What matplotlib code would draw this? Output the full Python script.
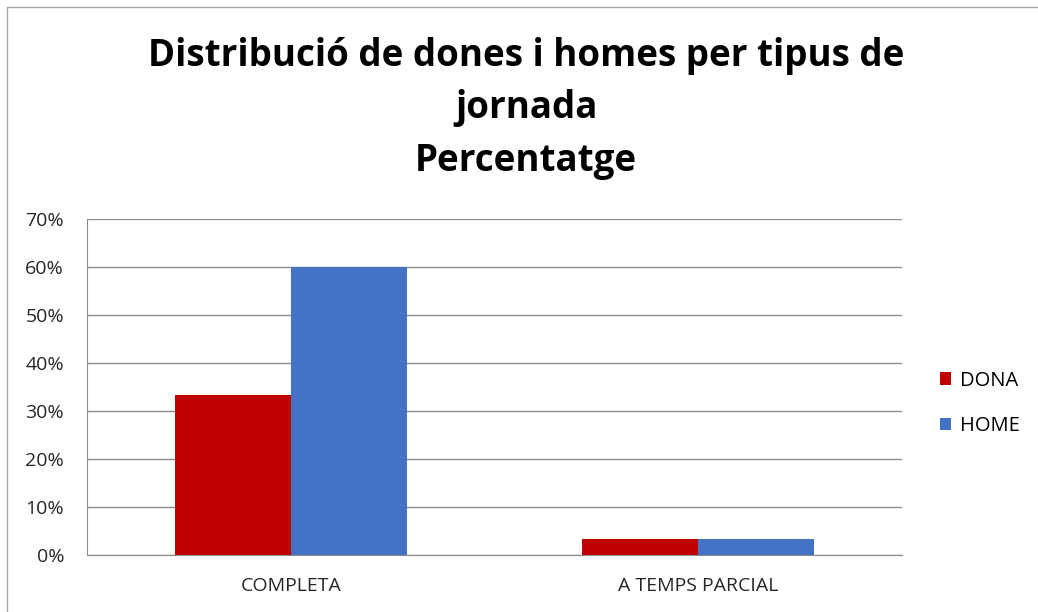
import matplotlib
matplotlib.use("Agg")
import matplotlib.pyplot as plt
import numpy as np
from matplotlib import patches
from matplotlib.ticker import PercentFormatter

categories = ["COMPLETA", "A TEMPS PARCIAL"]
series_names = ["DONA", "HOME"]
dona = [33.3, 3.3]
home = [60.0, 3.3]
colors = ["#C00000", "#4472C4"]

plt.rcParams['font.family'] = ['Open Sans', 'DejaVu Sans']

fig = plt.figure(figsize=(10.38, 6.12), dpi=100)
ax = fig.add_axes([0.0838, 0.0931, 0.7852, 0.5490])

# chart area border (left and top edges visible)
fig.add_artist(patches.Rectangle((7 / 1038, -0.1), 1.2, 1.1 - 7 / 612,
                                 transform=fig.transFigure, fill=False,
                                 edgecolor="#A6A6A6", linewidth=1.0))

x = np.arange(len(categories))
w = 0.285
for i, (vals, name) in enumerate(zip([dona, home], series_names)):
    ax.bar(x + (i - 0.5) * w, vals, width=w, color=colors[i], label=name, zorder=3)

ax.set_xlim(-0.5, len(categories) - 0.5)
ax.set_ylim(0, 70)
ax.set_yticks(np.arange(0, 71, 10))
ax.yaxis.set_major_formatter(PercentFormatter(decimals=0))
ax.set_xticks(x)
ax.set_xticklabels(categories)
ax.tick_params(axis="both", length=0, labelsize=14, labelcolor="#262626")
ax.tick_params(axis="y", pad=16.5)
ax.tick_params(axis="x", pad=16)
ax.grid(axis="y", color="#8C8C8C", linewidth=1.0, zorder=0)
for s in ["top", "right"]:
    ax.spines[s].set_visible(False)
ax.spines["left"].set_color("#8C8C8C")
ax.spines["bottom"].set_color("#8C8C8C")

fig.text(0.507, 0.8235, "Distribució de dones i homes per tipus de\njornada\nPercentatge",
         ha="center", va="center", fontsize=26.5, fontweight="bold",
         linespacing=1.5, color="black")

ax.legend(loc="center left", bbox_to_anchor=(1.047, 0.452), frameon=False,
          fontsize=14.5, handlelength=0.55, handleheight=0.55, handletextpad=0.45,
          labelspacing=1.25, borderpad=0, borderaxespad=0)

fig.savefig("out.png", dpi=100, facecolor="white")
